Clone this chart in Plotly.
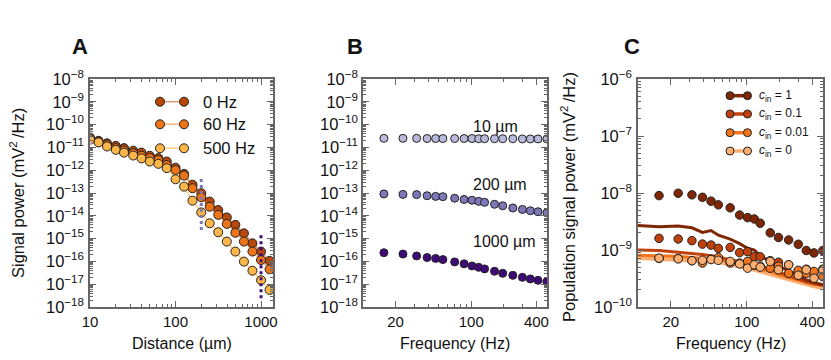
import plotly.graph_objects as go
from plotly.subplots import make_subplots

FONT = "Liberation Sans, Arial, sans-serif"
W, H = 831, 360

# ---- panel A: signal power vs distance
distance = [10, 12.6, 15.8, 20, 25, 32, 40, 50, 63, 79, 100, 126, 158, 200,
            251, 316, 398, 501, 631, 794, 1000, 1259]
power_0hz = [2.69e-11, 1.95e-11, 1.51e-11, 1.17e-11, 9.3e-12, 7.2e-12, 5.9e-12,
             4.3e-12, 3.4e-12, 2.4e-12, 1.29e-12, 6.9e-13, 2.3e-13, 9.8e-14,
             4.2e-14, 1.78e-14, 8.5e-15, 4.0e-15, 1.7e-15, 6.2e-16, 2.7e-16, 1.05e-16]
power_60hz = [2.5e-11, 1.7e-11, 1.32e-11, 9.3e-12, 7.4e-12, 5.6e-12, 4.3e-12,
              3.4e-12, 2.8e-12, 1.7e-12, 1.02e-12, 5.8e-13, 1.62e-13, 6.5e-14,
              2.5e-14, 1.1e-14, 4.4e-15, 1.8e-15, 7.4e-16, 2.7e-16, 1.15e-16, 4.5e-17]
power_500hz = [2.2e-11, 1.66e-11, 1.1e-11, 7.8e-12, 5.9e-12, 4.4e-12, 3.3e-12,
               2.4e-12, 1.9e-12, 1.23e-12, 4.0e-13, 1.9e-13, 4.6e-14, 1.41e-14,
               4.7e-15, 1.9e-15, 7.4e-16, 2.7e-16, 9.8e-17, 3.9e-17, 1.5e-17, 5.6e-18]

# spread across frequencies at the three distances shown in B
spread_x = [10, 200, 1000]
spread_lo = [4.0e-12, 2.4e-15, 2.4e-18]
spread_hi = [1.4e-10, 4.5e-13, 1.45e-15]

# ---- panel B: signal power vs frequency
freq = [15.6, 23.4, 31.3, 39.1, 46.9, 54.7, 70.3, 85.9, 101.6, 117.2, 132.8,
        164.1, 195.3, 242.2, 296.9, 351.6, 414.1, 500]
power_10um = [2.5e-11, 2.5e-11, 2.5e-11, 2.45e-11, 2.45e-11, 2.45e-11, 2.45e-11,
              2.45e-11, 2.45e-11, 2.4e-11, 2.4e-11, 2.4e-11, 2.4e-11, 2.4e-11,
              2.35e-11, 2.35e-11, 2.35e-11, 2.35e-11]
power_200um = [9.1e-14, 8.7e-14, 8.5e-14, 7.6e-14, 7.1e-14, 6.9e-14, 5.9e-14,
               5.2e-14, 4.8e-14, 4.3e-14, 3.9e-14, 3.2e-14, 2.75e-14, 2.2e-14,
               1.9e-14, 1.66e-14, 1.51e-14, 1.35e-14]
power_1000um = [2.4e-16, 2.1e-16, 1.74e-16, 1.48e-16, 1.35e-16, 1.2e-16, 9.5e-17,
                7.8e-17, 6.3e-17, 5.5e-17, 4.7e-17, 3.7e-17, 3.0e-17, 2.45e-17,
                2.0e-17, 1.7e-17, 1.48e-17, 1.29e-17]

# ---- panel C: population signal power, simulation (dots) and theory (lines)
pop_c1 = [9.0e-9, 9.9e-9, 9.3e-9, 8.4e-9, 7.2e-9, 6.2e-9, 5.5e-9, 4.1e-9, 3.7e-9,
          3.5e-9, 2.95e-9, 2.0e-9, 1.66e-9, 1.5e-9, 1.26e-9, 9.8e-10, 8.9e-10, 9.8e-10]
pop_c01 = [1.6e-9, 1.56e-9, 1.46e-9, 1.27e-9, 1.22e-9, 1.07e-9, 1.11e-9, 9.0e-10,
           9.35e-10, 7.6e-10, 7.6e-10, 6.5e-10, 6.1e-10, 5.5e-10, 4.3e-10, 4.6e-10,
           4.05e-10, 4.6e-10]
pop_c001 = [7.1e-10, 7.1e-10, 6.5e-10, 5.9e-10, 6.9e-10, 7.4e-10, 5.9e-10, 5.9e-10,
            6.3e-10, 5.4e-10, 5.2e-10, 4.8e-10, 5.2e-10, 3.9e-10, 4.4e-10, 3.9e-10,
            4.2e-10, 3.4e-10]
pop_c0 = [7.2e-10, 7.0e-10, 6.5e-10, 6.6e-10, 6.8e-10, 6.6e-10, 6.3e-10, 5.7e-10,
          4.8e-10, 5.5e-10, 5.0e-10, 6.3e-10, 4.5e-10, 5.5e-10, 3.6e-10, 4.5e-10,
          3.2e-10, 4.5e-10]

theory_freq = [10, 15.6, 23.4, 31.3, 39.1, 46.9, 54.7, 62.5, 70.3, 85.9, 101.6,
               117.2, 132.8, 164.1, 195.3, 242.2, 296.9, 351.6, 414.1, 500]
theory_c1 = [2.7e-9, 2.57e-9, 2.63e-9, 2.45e-9, 2.04e-9, 2.19e-9, 1.82e-9, 1.66e-9,
             1.55e-9, 1.29e-9, 1.07e-9, 1.0e-9, 7.9e-10, 6.3e-10, 5.2e-10, 4.3e-10,
             3.5e-10, 3.0e-10, 2.7e-10, 2.45e-10]
theory_c01 = [1.0e-9, 9.8e-10, 9.1e-10, 8.7e-10, 8.3e-10, 7.9e-10, 7.6e-10, 7.1e-10,
              6.8e-10, 6.3e-10, 5.9e-10, 5.5e-10, 5.1e-10, 4.7e-10, 4.1e-10, 3.5e-10,
              3.1e-10, 2.75e-10, 2.6e-10, 2.4e-10]
theory_c001 = [8.1e-10, 7.9e-10, 7.8e-10, 7.4e-10, 7.2e-10, 6.9e-10, 6.8e-10, 6.5e-10,
               6.3e-10, 5.75e-10, 5.25e-10, 4.9e-10, 4.6e-10, 4.2e-10, 3.7e-10, 3.3e-10,
               2.95e-10, 2.7e-10, 2.5e-10, 2.35e-10]
theory_c0 = [7.4e-10, 7.2e-10, 7.1e-10, 6.9e-10, 6.8e-10, 6.5e-10, 6.3e-10, 6.0e-10,
             5.9e-10, 5.4e-10, 4.9e-10, 4.6e-10, 4.3e-10, 3.9e-10, 3.5e-10, 3.1e-10,
             2.75e-10, 2.5e-10, 2.35e-10, 2.2e-10]

A_COLORS = ["#b8480a", "#ee7418", "#fdb748"]
A_LINES = ["rgba(184,72,10,0.55)", "rgba(238,116,24,0.55)", "rgba(253,183,72,0.7)"]
B_COLORS = ["#b9b9db", "#7d78b8", "#3f0a78"]
C_COLORS = ["#7f2704", "#c0410a", "#f2741c", "#fdaf72"]


def px(x, y):
    return x / W, 1 - y / H


fig = make_subplots(rows=1, cols=3)

# panel A
for vals, col, lc, name in zip([power_0hz, power_60hz, power_500hz], A_COLORS, A_LINES,
                               ["0 Hz", "60 Hz", "500 Hz"]):
    fig.add_trace(go.Scatter(x=distance, y=vals, mode="lines+markers", name=name,
                             line=dict(color=lc, width=1.5),
                             marker=dict(size=9, color=col, line=dict(color="#222", width=1))),
                  row=1, col=1)
for i in range(3):
    fig.add_trace(go.Scatter(x=[spread_x[i], spread_x[i]], y=[spread_lo[i], spread_hi[i]],
                             mode="lines", line=dict(color=B_COLORS[i], width=3, dash="dot")),
                  row=1, col=1)

# panel B
for vals, col in zip([power_10um, power_200um, power_1000um], B_COLORS):
    fig.add_trace(go.Scatter(x=freq, y=vals, mode="markers",
                             marker=dict(size=8, color=col, line=dict(color="#222", width=1))),
                  row=1, col=2)

# panel C
theory = [theory_c1, theory_c01, theory_c001, theory_c0]
widths = [3, 3, 3, 5]
for vals, col, w in zip(theory[::-1], C_COLORS[::-1], widths[::-1]):
    fig.add_trace(go.Scatter(x=theory_freq, y=vals, mode="lines",
                             line=dict(color=col, width=w)), row=1, col=3)
for vals, col in zip([pop_c1, pop_c01, pop_c001, pop_c0], C_COLORS):
    fig.add_trace(go.Scatter(x=freq, y=vals, mode="markers",
                             marker=dict(size=8.5, color=col, line=dict(color="#222", width=1))),
                  row=1, col=3)


def sup(e):
    return "10<sup>\u2212%d</sup>" % e


def minors(lo, hi):
    out = []
    for d in range(lo, hi):
        for m in range(2, 10):
            out.append(m * 10.0 ** d)
    return out


axis_style = dict(type="log", showline=True, mirror="ticks", linecolor="#666", linewidth=1.5,
                  ticks="inside", ticklen=6, tickwidth=1, tickcolor="#666", showgrid=False,
                  zeroline=False, automargin=False,
                  tickfont=dict(family=FONT, size=15, color="#111"))

fig.update_yaxes(**axis_style)
fig.update_xaxes(**axis_style)
fig.update_yaxes(tickfont_size=16.5)

ydom = [(H - 307) / H, (H - 79) / H]
fig.update_layout(
    xaxis=dict(domain=[90 / W, 273 / W], range=[1, 3.14],
               tickvals=[10, 100, 1000], ticktext=["10", "100", "1000"],
               minor=dict(tickvals=minors(1, 4), ticks="inside", ticklen=3, tickcolor="#666"),
               ticklabelstandoff=0),
    xaxis2=dict(domain=[363 / W, 547 / W], range=[1, 2.7],
                tickvals=[20, 100, 400], ticktext=["20", "100", "400"],
                minor=dict(tickvals=minors(1, 3), ticks="inside", ticklen=3, tickcolor="#666"),
                ticklabelstandoff=0),
    xaxis3=dict(domain=[638 / W, 823 / W], range=[1, 2.7],
                tickvals=[20, 100, 400], ticktext=["20", "100", "400"],
                minor=dict(tickvals=minors(1, 3), ticks="inside", ticklen=3, tickcolor="#666"),
                ticklabelstandoff=0),
    yaxis=dict(domain=ydom, range=[-18, -8],
               tickvals=[10.0 ** -e for e in range(8, 19)], ticktext=[sup(e) for e in range(8, 19)],
               minor=dict(tickvals=minors(-18, -8), ticks="inside", ticklen=3, tickcolor="#666"),
               ticklabelstandoff=1),
    yaxis2=dict(domain=ydom, range=[-18, -8],
                tickvals=[10.0 ** -e for e in range(8, 19)], ticktext=[sup(e) for e in range(8, 19)],
                minor=dict(tickvals=minors(-18, -8), ticks="inside", ticklen=3, tickcolor="#666"),
                ticklabelstandoff=0),
    yaxis3=dict(domain=ydom, range=[-10, -6],
                tickvals=[10.0 ** -e for e in range(6, 11)], ticktext=[sup(e) for e in range(6, 11)],
                minor=dict(tickvals=minors(-10, -6), ticks="inside", ticklen=3, tickcolor="#666"),
                ticklabelstandoff=1),
)

ann = []
# panel letters
for x, t in [(80, "A"), (355, "B"), (632, "C")]:
    ax, ay = px(x, 47)
    ann.append(dict(x=ax, y=ay, text="<b>%s</b>" % t, font=dict(size=22)))
# axis titles
for x, t in [(181.5, "Distance (\u00b5m)"), (455, "Frequency (Hz)"), (730.5, "Frequency (Hz)")]:
    ax, ay = px(x, 343)
    ann.append(dict(x=ax, y=ay, text=t, font=dict(size=16)))
for x, y, t in [(17, 193, "Signal power (mV<sup>2</sup>\u2009/Hz)"),
                (568, 197, "Population signal power (mV<sup>2</sup>\u2009/Hz)")]:
    ax, ay = px(x, y)
    ann.append(dict(x=ax, y=ay, text=t, textangle=-90, font=dict(size=16.5)))
# distance labels in B
for y, t in [(-10.09, "10 \u00b5m"), (-12.61, "200 \u00b5m"), (-15.14, "1000 \u00b5m")]:
    ann.append(dict(x=2.0, y=y, xref="x2", yref="y2", text=t, xanchor="left",
                    font=dict(size=16)))

shapes = []


def legend_row(x0, x1, y, col, lcol, lw, msize, label, fsize, lx):
    a0, b = px(x0, y)
    a1, _ = px(x1, y)
    shapes.append(dict(type="line", xref="paper", yref="paper", x0=a0, x1=a1, y0=b, y1=b,
                       line=dict(color=lcol, width=lw)))
    r = msize / 2
    for a in (a0, a1):
        shapes.append(dict(type="circle", xref="paper", yref="paper", xsizemode="pixel",
                           ysizemode="pixel", xanchor=a, yanchor=b, x0=-r, x1=r, y0=-r, y1=r,
                           fillcolor=col, line=dict(color="#222", width=1)))
    tx, _ = px(lx, y)
    ann.append(dict(x=tx, y=b, text=label, xanchor="left", font=dict(size=fsize)))


for i, (lab, y) in enumerate(zip(["0 Hz", "60 Hz", "500 Hz"], [101.7, 124.3, 148.3])):
    legend_row(160, 184, y, A_COLORS[i], A_LINES[i], 1.5, 9, lab, 16.5, 201)

for i, (lab, y) in enumerate(zip(["1", "0.1", "0.01", "0"], [95.7, 114, 132.7, 151])):
    legend_row(730, 747.5, y, C_COLORS[i], C_COLORS[i], 3.5, 8, "<i>c</i><sub>in</sub> = " + lab,
               12, 757)

for a in ann:
    a.setdefault("xref", "paper")
    a.setdefault("yref", "paper")
    a.setdefault("xanchor", "center")
    a.setdefault("yanchor", "middle")
    a["showarrow"] = False
    a["font"].update(family=FONT, color="#111")

fig.update_layout(width=W, height=H, margin=dict(l=0, r=0, t=0, b=0),
                  paper_bgcolor="white", plot_bgcolor="white", showlegend=False,
                  font=dict(family=FONT, color="#111"),
                  annotations=ann, shapes=shapes)

# page body has a default 8px margin; drop it so the figure fills the window
fig.write_html("out.html", config={"displayModeBar": False},
               post_script="document.body.style.margin='0';")
